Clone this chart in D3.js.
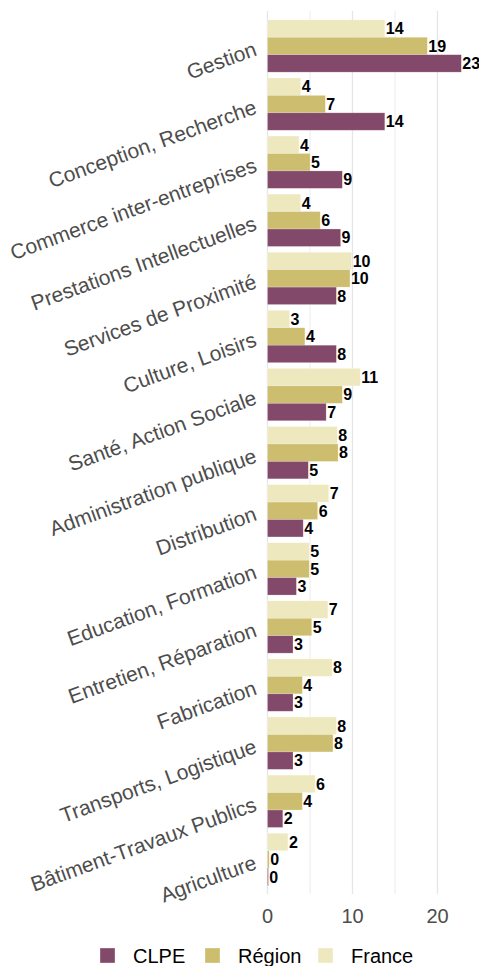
<!DOCTYPE html>
<html>
<head>
<meta charset="utf-8">
<script src="https://cdn.jsdelivr.net/npm/d3@7"></script>
<style>
  body { margin: 0; background: #fff; }
  svg { display: block; font-family: Arial, "Liberation Sans", sans-serif; }
</style>
</head>
<body>
<div id="chart"></div>
<script>
// categories, top to bottom
var categories = ["Gestion", "Conception, Recherche", "Commerce inter-entreprises",
  "Prestations Intellectuelles", "Services de Proximité", "Culture, Loisirs",
  "Santé, Action Sociale", "Administration publique", "Distribution",
  "Education, Formation", "Entretien, Réparation", "Fabrication",
  "Transports, Logistique", "Bâtiment-Travaux Publics", "Agriculture"];

var series = ["France", "Région", "CLPE"];   // order inside a group (top -> bottom)
var legendOrder = ["CLPE", "Région", "France"];

var france = [13.8, 3.9, 3.7, 3.9, 9.9, 2.6, 10.9, 8.2, 7.2, 4.9, 7.1, 7.6, 8.1, 5.6, 2.4];
var region = [18.8, 6.8, 5.0, 6.2, 9.7, 4.4, 8.8, 8.3, 5.9, 4.9, 5.2, 4.1, 7.7, 4.1, 0.2];
var clpe   = [22.8, 13.8, 8.8, 8.6, 8.1, 8.1, 6.9, 4.8, 4.2, 3.4, 3.0, 3.0, 3.0, 1.8, 0.1];

var xTicks = [0, 10, 20];

var colors = {"CLPE": "#83496a", "Région": "#cdbd6e", "France": "#eee8bf"};

var values = {"France": france, "Région": region, "CLPE": clpe};

var data = [];
categories.forEach(function(c, i) {
  series.forEach(function(s) {
    data.push({cat: c, serie: s, value: values[s][i]});
  });
});

var width = 479, height = 966;
var svg = d3.select("#chart").append("svg")
  .attr("width", width)
  .attr("height", height);

// scales
var x = d3.scaleLinear()
  .domain([0, 20])
  .range([267.5, 437.5]);

var step = 58.1;
var y = d3.scaleBand()
  .domain(categories)
  .range([46 - step / 2, 46 - step / 2 + step * categories.length])
  .paddingInner(0.1)
  .paddingOuter(0.05);

var panelTop = 11, panelBottom = 894;

var ySub = d3.scaleBand()
  .domain(series)
  .range([0, y.bandwidth()]);

// grid
var minor = [5, 15];
svg.append("g").selectAll("line.minor")
  .data(minor)
  .enter().append("line")
    .attr("x1", function(d) { return x(d); })
    .attr("x2", function(d) { return x(d); })
    .attr("y1", panelTop)
    .attr("y2", panelBottom)
    .attr("stroke", "#ececec")
    .attr("stroke-width", 1);

svg.append("g").selectAll("line.major")
  .data(xTicks)
  .enter().append("line")
    .attr("x1", function(d) { return x(d); })
    .attr("x2", function(d) { return x(d); })
    .attr("y1", panelTop)
    .attr("y2", panelBottom)
    .attr("stroke", "#e6e6e6")
    .attr("stroke-width", 1.3);

// bars
svg.append("g").selectAll("rect")
  .data(data)
  .enter().append("rect")
    .attr("x", x(0))
    .attr("y", function(d) { return y(d.cat) + ySub(d.serie); })
    .attr("width", function(d) { return x(d.value) - x(0); })
    .attr("height", ySub.bandwidth())
    .attr("fill", function(d) { return colors[d.serie]; })
    .attr("stroke", "#ffffff")
    .attr("stroke-opacity", 0.35)
    .attr("stroke-width", 0.6);

// value labels
svg.append("g").selectAll("text")
  .data(data)
  .enter().append("text")
    .attr("x", function(d) { return x(d.value) + 1; })
    .attr("y", function(d) { return y(d.cat) + ySub(d.serie) + ySub.bandwidth() / 2; })
    .attr("dy", "0.36em")
    .attr("font-size", 16)
    .attr("font-weight", "bold")
    .attr("fill", "#000")
    .text(function(d) { return Math.round(d.value); });

// y labels, rotated
svg.append("g").selectAll("text")
  .data(categories)
  .enter().append("text")
    .attr("transform", function(d) {
      return "translate(258," + (y(d) + y.bandwidth() / 2 + 9) + ") rotate(-20)";
    })
    .attr("text-anchor", "end")
    .attr("font-size", 21)
    .attr("fill", "#4d4d4d")
    .text(function(d) { return d; });

// x axis labels
svg.append("g").selectAll("text")
  .data(xTicks)
  .enter().append("text")
    .attr("x", function(d) { return x(d); })
    .attr("y", 923)
    .attr("text-anchor", "middle")
    .attr("font-size", 20)
    .attr("fill", "#4d4d4d")
    .text(function(d) { return d; });

// legend
var legendX = [100, 205, 318];
var legend = svg.append("g").selectAll("g")
  .data(legendOrder)
  .enter().append("g")
    .attr("transform", function(d, i) { return "translate(" + legendX[i] + ",948)"; });

legend.append("rect")
  .attr("width", 15)
  .attr("height", 15)
  .attr("fill", function(d) { return colors[d]; })
  .attr("stroke", "#ffffff")
  .attr("stroke-opacity", 0.35);

legend.append("text")
  .attr("x", 33)
  .attr("y", 15)
  .attr("font-size", 20)
  .attr("fill", "#000")
  .text(function(d) { return d; });
</script>
</body>
</html>
